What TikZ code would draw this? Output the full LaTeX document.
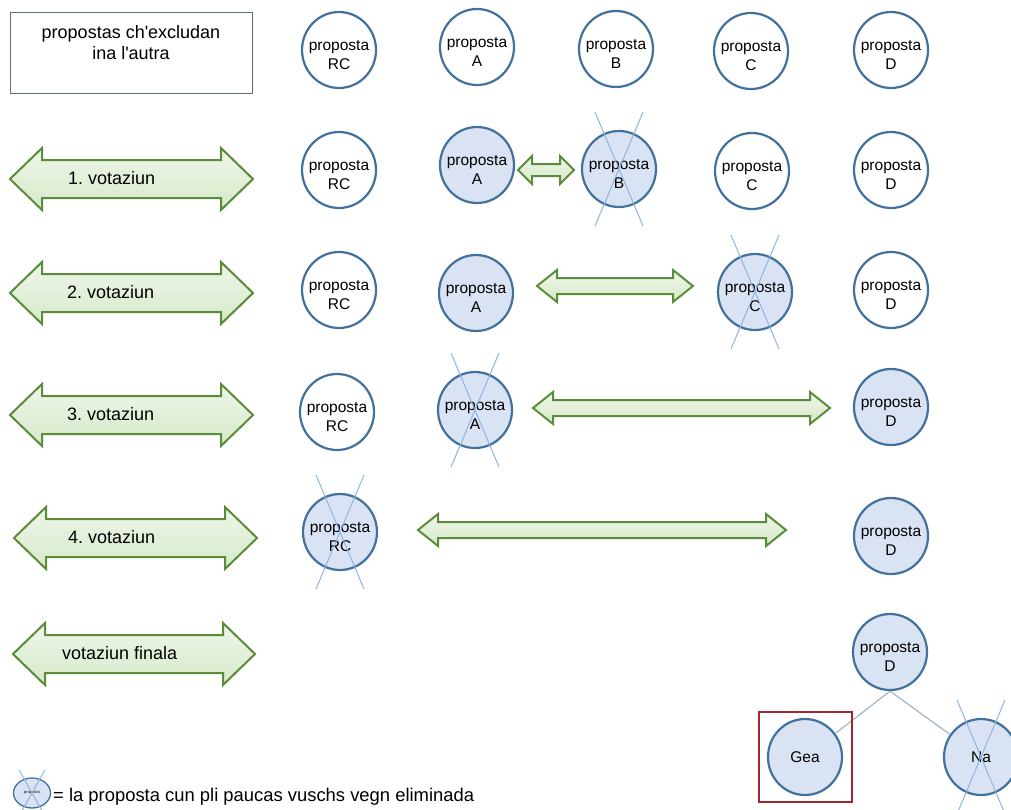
\documentclass[tikz,border=0pt]{standalone}
\usepackage{fontspec}
\setmainfont{Liberation Sans}[Ligatures=TeXOff]
\frenchspacing
\usetikzlibrary{shapes.geometric}
\definecolor{cblue}{HTML}{41719C}
\definecolor{cfill}{HTML}{DAE3F3}
\definecolor{xline}{HTML}{8EB4E3}
\definecolor{gline}{HTML}{5B8C3A}
\definecolor{gfillT}{HTML}{EEF6E9}
\definecolor{gfillB}{HTML}{D6E9C9}
\definecolor{boxred}{HTML}{A0282D}
\definecolor{boxgray}{HTML}{5E6E7E}
\definecolor{treegray}{HTML}{A3B6CA}
\tikzset{
 circ/.style={ellipse, draw=cblue, line width=2.2pt, minimum width=74pt, minimum height=76pt, inner sep=0pt, fill=white},
 sel/.style={circ, fill=cfill},
 ctext/.style={align=center, font=\fontsize{15.5}{19}\selectfont, inner sep=0pt},
 crossline/.style={draw=xline, line width=1pt},
 blockarr/.style={draw=gline, line width=2pt, top color=gfillT, bottom color=gfillB, line join=miter},
 lbl/.style={font=\fontsize{18}{21}\selectfont, inner sep=0pt},
 treeline/.style={draw=treegray, line width=1.2pt},
}
\newcommand\prop[5]{%
 \node[#4] (#1) at (#2,#3) {};
 \node[ctext] (#1t) at ([yshift=-5pt]#1.center) {proposta\\#5};}
\newcommand\xcross[1]{%
 \draw[crossline] ([shift={(-24pt,57pt)}]#1.center) -- ([shift={(24pt,-57pt)}]#1.center);
 \draw[crossline] ([shift={(24pt,57pt)}]#1.center) -- ([shift={(-24pt,-57pt)}]#1.center);}
\newcommand\barrow[6]{%
 \path[blockarr] (#1,#3) -- ({#1+#6},{#3-#4}) -- ({#1+#6},{#3-#5}) -- ({#2-#6},{#3-#5}) -- ({#2-#6},{#3-#4}) -- (#2,#3) -- ({#2-#6},{#3+#4}) -- ({#2-#6},{#3+#5}) -- ({#1+#6},{#3+#5}) -- ({#1+#6},{#3+#4}) -- cycle;}
\begin{document}
\begin{tikzpicture}[x=1pt,y=-1pt]
\useasboundingbox[fill=white] (0,0) rectangle (1011,809);

% header box
\draw[boxgray, line width=1pt] (10,12) rectangle (252,93);
\node[lbl, align=center, font=\fontsize{18}{21}\selectfont] (head) at (131,43) {propostas ch'excludan\\ina l'autra};

% row 0
\prop{rc0}{339}{50}{circ}{RC}
\prop{a0}{477}{47}{circ}{A}
\prop{b0}{616}{49}{circ}{B}
\prop{c0}{751}{51}{circ}{C}
\prop{d0}{891}{50}{circ}{D}

% row 1
\barrow{10}{253}{179}{31}{19}{32}
\node[lbl, anchor=west] (v1) at (68,178) {1. votaziun};
\prop{rc1}{339}{170}{circ}{RC}
\prop{a1}{477}{165}{sel}{A}
\barrow{518}{574}{170}{14}{6}{14}
\prop{b1}{619}{169}{sel}{B}
\xcross{b1}
\prop{c1}{752}{171}{circ}{C}
\prop{d1}{891}{170}{circ}{D}

% row 2
\barrow{10}{253}{293}{31}{19}{32}
\node[lbl, anchor=west] (v2) at (67,292) {2. votaziun};
\prop{rc2}{339}{290}{circ}{RC}
\prop{a2}{476}{293}{sel}{A}
\barrow{537}{693}{286}{16}{8}{20}
\prop{c2}{755}{292}{sel}{C}
\xcross{c2}
\prop{d2}{891}{290}{circ}{D}

% row 3
\barrow{10}{253}{415}{31}{19}{32}
\node[lbl, anchor=west] (v3) at (67,414) {3. votaziun};
\prop{rc3}{337}{412}{circ}{RC}
\prop{a3}{475}{410}{sel}{A}
\xcross{a3}
\barrow{533}{830}{408}{16}{8}{20}
\prop{d3}{891}{407}{sel}{D}

% row 4
\barrow{14}{257}{538}{31}{19}{32}
\node[lbl, anchor=west] (v4) at (68,537) {4. votaziun};
\prop{rc4}{340}{532}{sel}{RC}
\xcross{rc4}
\barrow{418}{786}{530}{16}{8}{20}
\prop{d4}{891}{536}{sel}{D}

% row 5
\barrow{13}{255}{654}{31}{19}{32}
\node[lbl, anchor=west] (v5) at (62,653) {votaziun finala};
\prop{d5}{890}{652}{sel}{D}

% final result
\node[sel] (gea) at (805,757) {};
\node[ctext] (geat) at (gea.center) {Gea};
\node[sel] (na) at (981,757) {};
\node[ctext] (nat) at (na.center) {Na};
\draw[treeline] (d5.south) -- (gea);
\draw[treeline] (d5.south) -- (na);
\xcross{na}
\node[draw=boxred, line width=2.5pt, minimum width=93pt, minimum height=90pt, inner sep=0pt] (redbox) at (805.5,757) {};

% legend
\node[ellipse, draw=cblue, line width=1.3pt, fill=cfill, minimum width=37pt, minimum height=30pt, inner sep=0pt, font=\fontsize{4}{4}\selectfont] (leg) at (32,793) {proposta};
\draw[crossline] ([shift={(-13pt,23pt)}]leg.center) -- ([shift={(13pt,-23pt)}]leg.center);
\draw[crossline] ([shift={(13pt,23pt)}]leg.center) -- ([shift={(-13pt,-23pt)}]leg.center);
\node[lbl, anchor=west, font=\fontsize{18.4}{21}\selectfont] (legt) at (53,797) {= la proposta cun pli paucas vuschs vegn eliminada};
\end{tikzpicture}
\end{document}
